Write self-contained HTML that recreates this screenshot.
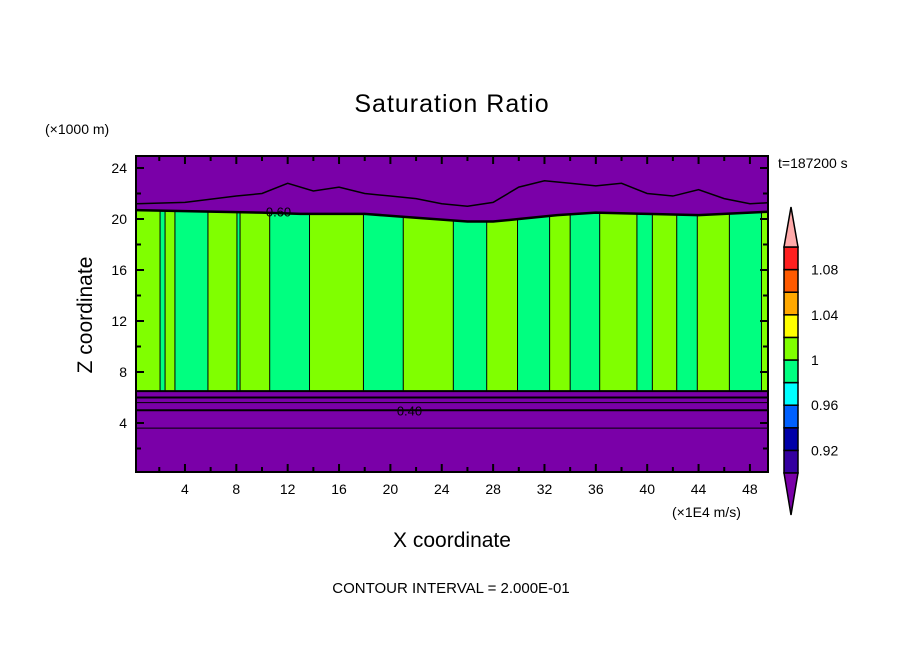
<!DOCTYPE html>
<html><head><meta charset="utf-8"><style>
html,body{margin:0;padding:0;background:#fff;}
svg{display:block;font-family:"Liberation Sans",sans-serif;}
</style></head><body>
<svg id="chart" width="904" height="654" viewBox="0 0 904 654">
<text x="452" y="112" font-size="25" text-anchor="middle" letter-spacing="1">Saturation Ratio</text>
<text x="45" y="134" font-size="14">(×1000 m)</text>
<text x="778" y="168" font-size="14">t=187200 s</text>
<text x="672" y="517" font-size="14">(×1E4 m/s)</text>
<text x="452" y="547" font-size="21" text-anchor="middle">X coordinate</text>
<text transform="translate(92,315) rotate(-90)" font-size="21" text-anchor="middle">Z coordinate</text>
<text x="451" y="593" font-size="15" text-anchor="middle">CONTOUR INTERVAL = 2.000E-01</text>
<g id="plot"></g>
<g id="cbar"></g>
</svg>
<script>
const stripStart=[0.2,2.06,2.45,3.22,5.79,8.05,8.29,10.6,13.7,17.9,21.0,24.9,27.5,29.9,32.4,34.0,36.3,39.2,40.4,42.3,43.9,46.4,48.9];
const stripEnd=[2.06,2.45,3.22,5.79,8.05,8.29,10.6,13.7,17.9,21.0,24.9,27.5,29.9,32.4,34.0,36.3,39.2,40.4,42.3,43.9,46.4,48.9,50.0];
const stripValue=[1.01,0.99,1.01,0.99,1.01,0.99,1.01,0.99,1.01,0.99,1.01,0.99,1.01,0.99,1.01,0.99,1.01,0.99,1.01,0.99,1.01,0.99,1.01];
const cloudTopX=[0.2,5,10,13,18,22,26,28,30,33,36,40,44,48,50];
const cloudTopZ=[20.7,20.6,20.5,20.4,20.4,20.1,19.8,19.8,20.0,20.3,20.5,20.4,20.3,20.5,20.6];
const cloudBaseZ=6.5;
const contourZ=[6.0,5.6,5.0,3.6];
const contourW=[2,1,2,1];
const upperX=[0.2,4,8,10,12,14,16,18,20,22,24,26,28,30,32,34,36,38,40,42,44,46,48,50];
const upperZ=[21.2,21.3,21.8,22.0,22.8,22.2,22.5,22.0,21.8,21.6,21.2,21.0,21.3,22.5,23.0,22.8,22.6,22.8,22.0,21.8,22.3,21.6,21.2,21.3];
const xTickLabels=[4,8,12,16,20,24,28,32,36,40,44,48];
const zTickLabels=[4,8,12,16,20,24];
const levelValues=[0.90,0.92,0.94,0.96,0.98,1.00,1.02,1.04,1.06,1.08,1.10];
const levelColors=["#3400a0","#0000a8","#0060ff","#00ffff","#00ff80","#80ff00","#ffff00","#ffa800","#ff5a00","#ff2020"];
const cbarLabels=[0.92,0.96,1.00,1.04,1.08];

const NS="http://www.w3.org/2000/svg";
const L=136,R=768,T=156,B=472;
const X=v=>133.6+v*12.84;
const Z=v=>474-v*12.75;
const PURPLE="#7a00a8";
function mk(tag,attrs,parent){const e=document.createElementNS(NS,tag);for(const k in attrs)e.setAttribute(k,attrs[k]);parent.appendChild(e);return e;}
function colorFor(v){for(let i=0;i<levelColors.length;i++){if(v>=levelValues[i]&&v<levelValues[i+1])return levelColors[i];}return v<levelValues[0]?PURPLE:"#ffaaaa";}
const plot=document.getElementById('plot');
const clip=mk('clipPath',{id:'pc'},mk('defs',{},plot));
mk('rect',{x:L,y:T,width:R-L,height:B-T},clip);
const g=mk('g',{'clip-path':'url(#pc)'},plot);
const bg=mk('rect',{x:L,y:T,width:R-L,height:B-T,fill:PURPLE},g);


let topPts=cloudTopX.map((x,i)=>X(x)+','+Z(cloudTopZ[i]));
const cclip=mk('clipPath',{id:'cc'},mk('defs',{},plot));
mk('polygon',{points:topPts.join(' ')+' '+X(50)+','+Z(cloudBaseZ)+' '+X(0.2)+','+Z(cloudBaseZ)},cclip);
const cg=mk('g',{'clip-path':'url(#cc)'},g);
for(let i=0;i<stripStart.length;i++){
  const r=mk('rect',{x:X(stripStart[i]),y:T,width:X(stripEnd[i])-X(stripStart[i])+0.5,height:B-T,fill:colorFor(stripValue[i])},cg);
  
  
  const ln=mk('line',{x1:X(stripStart[i]),x2:X(stripStart[i]),y1:T,y2:B,stroke:'#000','stroke-width':1},cg);
  
  
}
const ct=mk('polyline',{points:topPts.join(' '),fill:'none',stroke:'#000','stroke-width':2.5},g);


const cb=mk('line',{x1:L,x2:R,y1:Z(cloudBaseZ),y2:Z(cloudBaseZ),stroke:'#000','stroke-width':2},g);


const up=mk('polyline',{points:upperX.map((x,i)=>X(x)+','+Z(upperZ[i])).join(' '),fill:'none',stroke:'#000','stroke-width':1.5},g);


contourZ.forEach((z,i)=>{
  const c=mk('line',{x1:L,x2:R,y1:Z(z),y2:Z(z),stroke:'#000','stroke-width':contourW[i]},g);
  
  
});
const lab1=mk('text',{x:X(20.5),y:Z(5.0)+5,'font-size':13},g);lab1.textContent='0.40';


const lab2=mk('text',{x:X(10.3),y:Z(20.6)+5,'font-size':13},g);lab2.textContent='0.60';


const fr=mk('rect',{x:L,y:T,width:R-L,height:B-T,fill:'none',stroke:'#000','stroke-width':2},plot);


for(let v=2;v<=50;v+=2){
  if(X(v)>R-2)continue;
  const len=v%4===0?8:5;
  mk('line',{x1:X(v),x2:X(v),y1:B,y2:B-len,stroke:'#000','stroke-width':2},plot);
  mk('line',{x1:X(v),x2:X(v),y1:T,y2:T+len,stroke:'#000','stroke-width':2},plot);
}
for(let v=2;v<=24;v+=2){
  const len=v%4===0?8:5;
  mk('line',{x1:L,x2:L+len,y1:Z(v),y2:Z(v),stroke:'#000','stroke-width':2},plot);
  mk('line',{x1:R,x2:R-len,y1:Z(v),y2:Z(v),stroke:'#000','stroke-width':2},plot);
}
xTickLabels.forEach(v=>{
  const t=mk('text',{x:X(v),y:B+22,'font-size':14,'text-anchor':'middle'},plot);t.textContent=v;
  
  
});
zTickLabels.forEach(v=>{
  const t=mk('text',{x:L-9,y:Z(v)+5,'font-size':14,'text-anchor':'end'},plot);t.textContent=v;
  
  
});
const cbar=document.getElementById('cbar');
const cx0=784,cx1=798,cTop=247,cBot=473;
const bh=(cBot-cTop)/levelColors.length;
levelColors.forEach((c,i)=>{
  const r=mk('rect',{x:cx0,y:cBot-(i+1)*bh,width:cx1-cx0,height:bh,fill:c,stroke:'#000','stroke-width':1.5},cbar);
  
  
});
const tu=mk('polygon',{points:`${cx0},${cTop} ${cx1},${cTop} ${(cx0+cx1)/2},207`,fill:'#ffaaaa',stroke:'#000','stroke-width':1.5},cbar);


const td=mk('polygon',{points:`${cx0},${cBot} ${cx1},${cBot} ${(cx0+cx1)/2},515`,fill:PURPLE,stroke:'#000','stroke-width':1.5},cbar);


cbarLabels.forEach(v=>{
  const idx=Math.round((v-levelValues[0])/0.02);
  const t=mk('text',{x:811,y:cBot-idx*bh+5,'font-size':14},cbar);
  t.textContent=(v===1?'1':String(v));
  
  
});
</script>
</body></html>
